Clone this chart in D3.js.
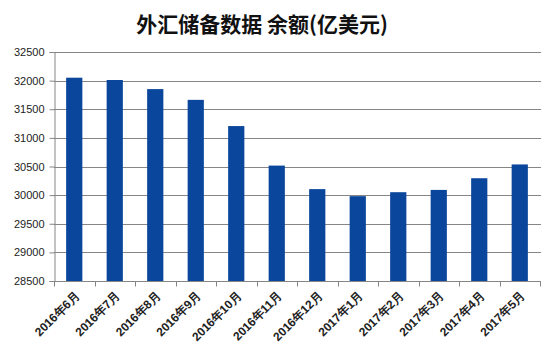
<!DOCTYPE html>
<html><head><meta charset="utf-8">
<script src="https://cdn.jsdelivr.net/npm/d3@7"></script>
<style>body{margin:0;background:#fff;}svg{display:block;}</style>
</head><body>
<svg id="c" width="550" height="356"></svg>
<script>
const categories = ["2016年6月","2016年7月","2016年8月","2016年9月","2016年10月","2016年11月","2016年12月","2017年1月","2017年2月","2017年3月","2017年4月","2017年5月"];
const values = [32051,32011,31852,31664,31206,30516,30105,29982,30051,30091,30295,30536];
const yTicks = [28500,29000,29500,30000,30500,31000,31500,32000,32500];
const title = "外汇储备数据 余额(亿美元)";

(function () {
const svg = d3.select("#c");
const mLeft = 54, mRight = 540, mTop = 52, mBottom = 281;
const x = d3.scaleBand().domain(categories).range([mLeft, mRight]).paddingInner(0.6).paddingOuter(0.3);
const xb = d3.scaleBand().domain(categories).range([mLeft, mRight]);
const y = d3.scaleLinear().domain([28500, 32500]).range([mBottom, mTop]);
const font = "'Liberation Sans', Arial, sans-serif";

svg.append("text").attr("x", 262).attr("y", 32).attr("text-anchor", "middle")
  .attr("font-family", "'Noto Sans CJK SC', sans-serif").attr("font-weight", "bold")
  .attr("font-size", 21).attr("fill", "#111").text(title);

svg.append("g").selectAll("line").data(yTicks).join("line")
  .attr("x1", mLeft).attr("x2", mRight + 1).attr("y1", d => Math.round(y(d)) + 0.5).attr("y2", d => Math.round(y(d)) + 0.5)
  .attr("stroke", "#868686").attr("stroke-width", 1);

svg.append("g").selectAll("rect").data(values).join("rect")
  .attr("x", (d, i) => x(categories[i])).attr("width", x.bandwidth())
  .attr("y", d => y(d)).attr("height", d => mBottom - y(d))
  .attr("fill", "#0a469b");

const ya = svg.append("g").attr("transform", `translate(${mLeft + 0.5},0)`)
  .call(d3.axisLeft(y).tickValues(yTicks).tickSize(5).tickPadding(5).tickFormat(d3.format("d")));
ya.selectAll("path,line").attr("stroke", "#868686");
ya.selectAll("text").attr("font-family", font).attr("font-size", 11).attr("fill", "#222");

const xa = svg.append("g").attr("transform", `translate(0,${mBottom + 0.5})`);
xa.append("line").attr("x1", mLeft).attr("x2", mRight + 1).attr("stroke", "#868686");
xa.selectAll("line.t").data(categories.concat(["__end"])).join("line").attr("class", "t")
  .attr("x1", (d, i) => Math.round(mLeft + i * xb.step()) + 0.5).attr("x2", (d, i) => Math.round(mLeft + i * xb.step()) + 0.5)
  .attr("y1", 0).attr("y2", 5).attr("stroke", "#868686");
xa.selectAll("text.l").data(categories).join("text").attr("class", "l")
  .attr("transform", d => `translate(${xb(d) + xb.bandwidth() / 2 + 6},${15}) rotate(-45)`)
  .attr("text-anchor", "end").attr("font-family", font).attr("font-weight", "bold")
  .attr("font-size", 12).attr("fill", "#222").text(d => d);
})();
</script>
</body></html>
